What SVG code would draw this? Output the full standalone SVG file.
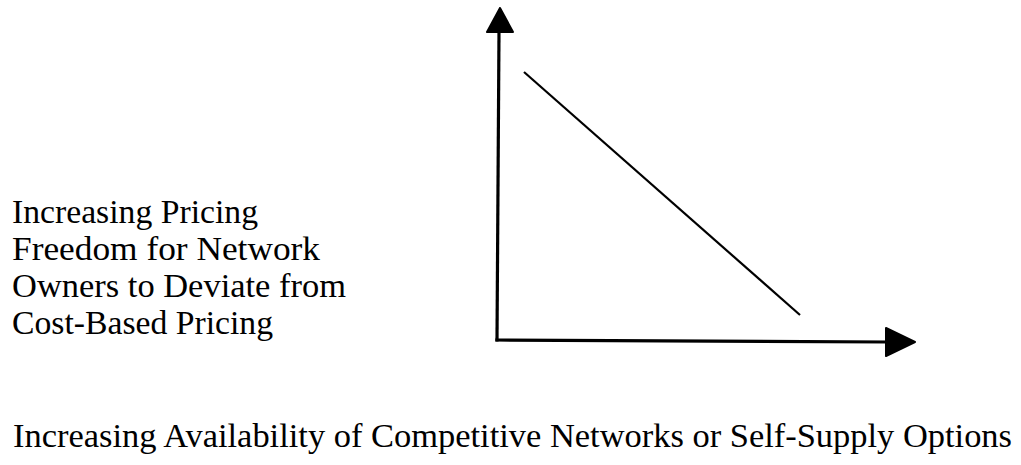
<svg xmlns="http://www.w3.org/2000/svg" width="1021" height="465" viewBox="0 0 1021 465">
<style>
.t{font-family:"Liberation Serif","Times New Roman",serif;font-size:33px;fill:#000}
.ax{stroke:#000;stroke-width:3.2;fill:none;stroke-linecap:square}
.hd{fill:#000;stroke:#000;stroke-width:2;stroke-linejoin:round}
</style>
<rect width="1021" height="465" fill="#fff"/>
<g id="connectors">
<line class="ax" x1="499" y1="32" x2="497" y2="340"/>
<polygon class="hd" points="500,8 487,32 513,32"/>
<line class="ax" x1="497" y1="340" x2="886" y2="342"/>
<polygon class="hd" points="886,328 915,342 886,356"/>
<line x1="524" y1="72" x2="800" y2="315" stroke="#000" stroke-width="2.2"/>
</g>
<g id="y-label">
<text class="t" x="12" y="223" textLength="246" lengthAdjust="spacingAndGlyphs">Increasing Pricing</text>
<text class="t" x="12" y="260" textLength="308" lengthAdjust="spacingAndGlyphs">Freedom for Network</text>
<text class="t" x="12" y="297" textLength="334" lengthAdjust="spacingAndGlyphs">Owners to Deviate from</text>
<text class="t" x="12" y="334" textLength="261" lengthAdjust="spacingAndGlyphs">Cost-Based Pricing</text>
</g>
<g id="x-label">
<text class="t" x="13" y="447" font-size="34" textLength="999" lengthAdjust="spacingAndGlyphs">Increasing Availability of Competitive Networks or Self-Supply Options</text>
</g>
</svg>
